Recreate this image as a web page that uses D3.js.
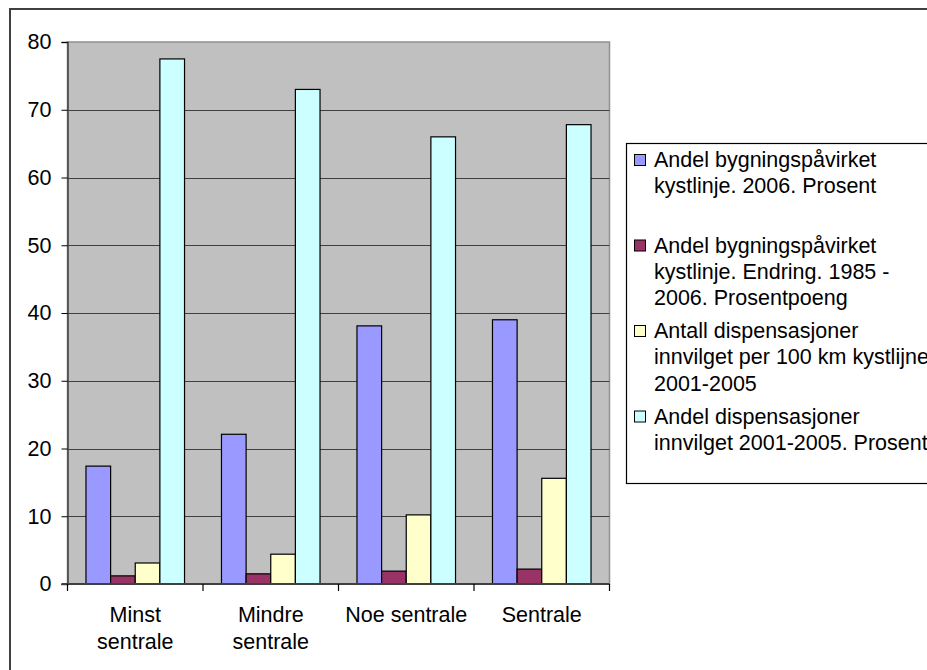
<!DOCTYPE html>
<html>
<head>
<meta charset="utf-8">
<script src="https://cdn.jsdelivr.net/npm/d3@7"></script>
<style>
    body { margin: 0; background: #fff; }
    svg { display: block; }
    text { font-family: "Liberation Sans", Arial, sans-serif; fill: #000; }
</style>
</head>
<body>
<script>
"use strict";
(function(){
    // data
    const categories = ["Minst sentrale", "Mindre sentrale", "Noe sentrale", "Sentrale"]
    const categoryLines = [["Minst", "sentrale"], ["Mindre", "sentrale"], ["Noe sentrale"], ["Sentrale"]]
    const seriesLines = [
        ["Andel bygningspåvirket", "kystlinje. 2006. Prosent"],
        ["Andel bygningspåvirket", "kystlinje. Endring. 1985 -", "2006. Prosentpoeng"],
        ["Antall dispensasjoner", "innvilget per 100 km kystlijne.", "2001-2005"],
        ["Andel dispensasjoner", "innvilget 2001-2005. Prosent"]
    ]
    const bygning2006 = [17.4, 22.1, 38.1, 39.0]
    const bygningEndring = [1.2, 1.5, 1.9, 2.2]
    const dispPer100km = [3.1, 4.4, 10.2, 15.6]
    const dispAndel = [77.5, 73.0, 66.0, 67.8]
    const yTicks = [0, 10, 20, 30, 40, 50, 60, 70, 80]

    const seriesValues = [bygning2006, bygningEndring, dispPer100km, dispAndel]
    const colors = ["#9999FF", "#993366", "#FFFFCC", "#CCFFFF"]
    const fontSize = "21.5px"

    const measurements = {
        width: 927,
        height: 670,
        plotLeft: 67.5,
        plotRight: 609.5,
        plotTop: 42,
        plotBottom: 584
    }

    let svg = d3.select("body").append("svg")
        .attr("width", measurements.width)
        .attr("height", measurements.height)

    // outer chart border (right and bottom fall outside the picture)
    svg.append("rect")
        .attr("x", 10).attr("y", 9)
        .attr("width", 1000).attr("height", 1000)
        .attr("fill", "none")
        .attr("stroke", "#404040")
        .attr("stroke-width", 2)

    let x0 = d3.scaleBand()
        .domain(categories)
        .range([measurements.plotLeft, measurements.plotRight])
        .padding(0)

    let x1 = d3.scaleBand()
        .domain(d3.range(seriesValues.length))
        .range([0, x0.bandwidth()])
        .paddingInner(0)
        .paddingOuter(0.75)

    let y = d3.scaleLinear()
        .domain([0, 80])
        .range([measurements.plotBottom, measurements.plotTop])

    // plot area
    svg.append("rect")
        .attr("x", measurements.plotLeft)
        .attr("y", measurements.plotTop)
        .attr("width", measurements.plotRight - measurements.plotLeft)
        .attr("height", measurements.plotBottom - measurements.plotTop)
        .attr("fill", "#C0C0C0")
        .attr("stroke", "#909090")
        .attr("stroke-width", 1.5)

    // gridlines
    svg.append("g").selectAll("line")
        .data(yTicks.filter(d => d > 0 && d < 80))
        .enter().append("line")
        .attr("x1", measurements.plotLeft)
        .attr("x2", measurements.plotRight)
        .attr("y1", d => Math.round(y(d)) + 0.5)
        .attr("y2", d => Math.round(y(d)) + 0.5)
        .attr("stroke", "#404040")
        .attr("stroke-width", 1)

    // bars
    categories.forEach(function(cat, ci) {
        svg.append("g").selectAll("rect")
            .data(seriesValues.map((s, si) => ({ si: si, v: s[ci] })))
            .enter().append("rect")
            .attr("x", d => x0(cat) + x1(d.si))
            .attr("y", d => y(d.v))
            .attr("width", x1.bandwidth())
            .attr("height", d => y(0) - y(d.v))
            .attr("fill", d => colors[d.si])
            .attr("stroke", "#000")
            .attr("stroke-width", 1.2)
    })

    // y axis
    let yAxis = d3.axisLeft(y)
        .tickValues(yTicks)
        .tickSize(6)
        .tickPadding(10)
    let gy = svg.append("g")
        .attr("transform", "translate(" + measurements.plotLeft + ",0)")
        .call(yAxis)
    gy.select(".domain").attr("stroke", "#404040").attr("stroke-width", 1.5)
    gy.selectAll(".tick line").attr("stroke", "#000")
    gy.selectAll("text")
        .style("font-size", fontSize)
        .style("font-family", "'Liberation Sans', Arial, sans-serif")
        .attr("fill", "#000")

    // x axis line and boundary ticks
    svg.append("line")
        .attr("x1", measurements.plotLeft - 6).attr("x2", measurements.plotRight)
        .attr("y1", measurements.plotBottom).attr("y2", measurements.plotBottom)
        .attr("stroke", "#404040").attr("stroke-width", 2)

    let boundaries = categories.map(c => x0(c)).concat([x0.range()[1]])
    svg.append("g").selectAll("line")
        .data(boundaries)
        .enter().append("line")
        .attr("x1", d => d).attr("x2", d => d)
        .attr("y1", measurements.plotBottom)
        .attr("y2", measurements.plotBottom + 7)
        .attr("stroke", "#000")
        .attr("stroke-width", 1.2)

    let labels = svg.append("g").selectAll("text")
        .data(categories)
        .enter().append("text")
        .attr("text-anchor", "middle")
        .style("font-size", fontSize)
    labels.each(function(cat, i) {
        let t = d3.select(this)
        categoryLines[i].forEach(function(line, li) {
            t.append("tspan")
                .attr("x", x0(cat) + x0.bandwidth() / 2)
                .attr("y", 622 + li * 27)
                .text(line)
        })
    })

    // legend
    let legend = svg.append("g")
    legend.append("rect")
        .attr("x", 626.5).attr("y", 143.5)
        .attr("width", 400).attr("height", 340)
        .attr("fill", "#fff")
        .attr("stroke", "#000")
        .attr("stroke-width", 1.2)

    seriesLines.forEach(function(lines, i) {
        let base = 167 + i * 85.5
        legend.append("rect")
            .attr("x", 634.5).attr("y", base - 12.5)
            .attr("width", 11).attr("height", 11)
            .attr("fill", colors[i])
            .attr("stroke", "#000")
        let t = legend.append("text").style("font-size", fontSize)
        lines.forEach(function(line, li) {
            t.append("tspan")
                .attr("x", 654)
                .attr("y", base + li * 26.4)
                .text(line)
        })
    })
})()
</script>
</body>
</html>
